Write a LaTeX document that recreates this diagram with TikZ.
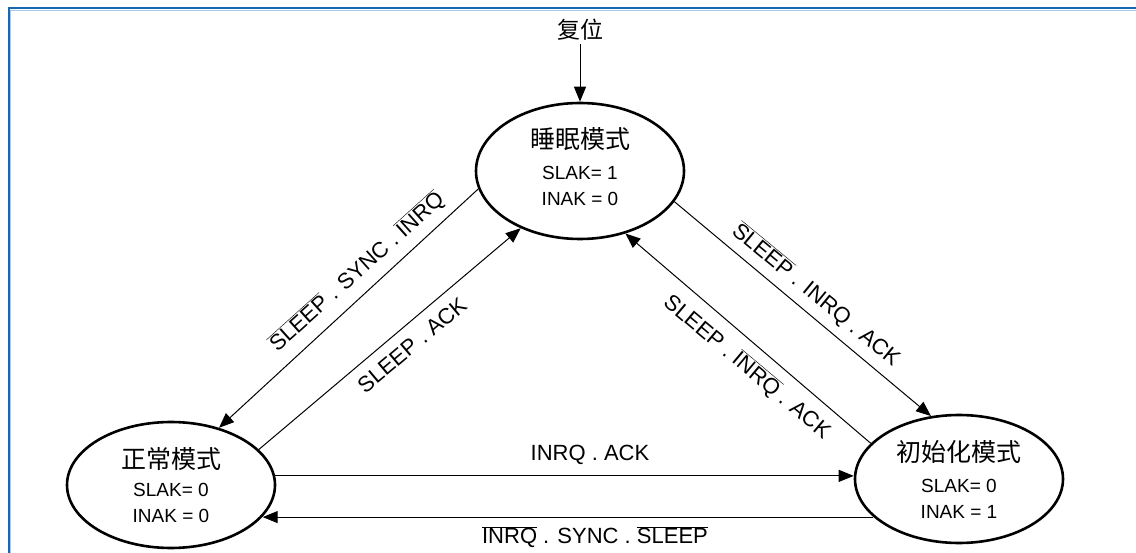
\documentclass[tikz,border=0pt]{standalone}
\usepackage{fontspec}
\setmainfont{Liberation Sans}
\newfontfamily\cjk{Noto Sans CJK SC}
\usetikzlibrary{arrows.meta, shapes.geometric}
\definecolor{mFrame}{HTML}{1A67B1}
\definecolor{mFrameLight}{HTML}{A9C9EA}
\newcommand{\ov}[1]{$\overline{\mbox{#1}}$}

\begin{document}
\begin{tikzpicture}[x=1pt, y=-1pt,
      state/.style={draw, ellipse, line width=2.6pt, inner sep=0pt, minimum width=208pt, align=center, font=\fontsize{19}{26}\selectfont},
      arr/.style={-{Triangle[length=15pt, width=12pt]}, line width=1pt},
      cond/.style={font=\fontsize{22}{26}\selectfont, inner sep=1pt}]
    \useasboundingbox (0,0) rectangle (1136,553);
    \draw[mFrameLight, line width=1pt] (10.5,553) -- (10.5,10.5) -- (1136,10.5);
    \draw[mFrame, line width=2pt] (8.5,553) -- (8.5,8.5) -- (1136,8.5);
    \node[state, minimum height=136pt] (sleep) at (580,171) {{\cjk\fontsize{25}{30}\selectfont 睡眠模式}\\[5pt] SLAK= 1\\ INAK = 0\\[-18pt]};
    \node[state, minimum height=126pt] (normal) at (171,485) {{\cjk\fontsize{25}{30}\selectfont 正常模式}\\[2pt] SLAK= 0\\ INAK = 0};
    \node[state, minimum height=128pt] (init) at (959,479) {{\cjk\fontsize{25}{30}\selectfont 初始化模式}\\[5pt] SLAK= 0\\ INAK = 1};
    \node[font=\cjk\fontsize{23}{26}\selectfont] (reset) at (580,30) {复位};
    \draw[arr] (reset) -- (sleep);
    \draw[arr] (sleep.190) -- (normal.50.5);
    \draw[arr] (normal.22.5) -- (sleep.224.5);
    \draw[arr] (sleep.342) -- (init.114);
    \draw[arr] (init.158) -- (sleep.306.7);
    \draw[arr] (normal.5.6) -- (init.west |- normal.5.6);
    \draw[arr] (init.204.4) -- (normal.-19.7 |- init.204.4);
    \node[cond, rotate=42] (c1) at (357,272) {\ov{SLEEP} . SYNC . \ov{INRQ}};
    \node[cond, rotate=40] (c2) at (412,345) {SLEEP . ACK};
    \node[cond, rotate=-39.5] (c3) at (816,295) {\ov{SLEEP} . INRQ . ACK};
    \node[cond, rotate=-40] (c4) at (747,367) {SLEEP . \ov{INRQ} . ACK};
    \node[cond] (c5) at (590,455) {INRQ . ACK};
    \node[cond] (c6) at (595,537) {\ov{INRQ} . SYNC . \ov{SLEEP}};
  \end{tikzpicture}
\end{document}
